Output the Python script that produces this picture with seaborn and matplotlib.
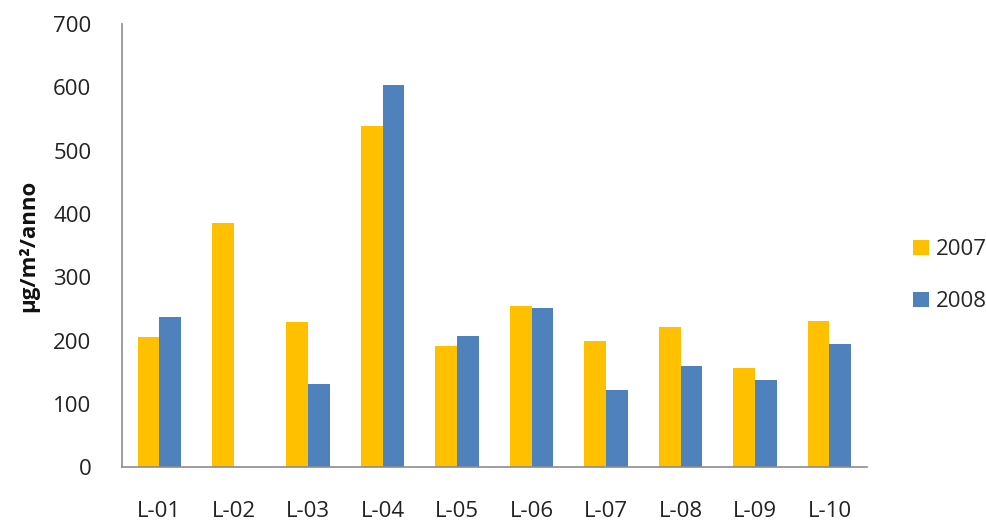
import matplotlib
matplotlib.use("Agg")
import matplotlib.pyplot as plt
import seaborn as sns
import pandas as pd
import numpy as np
from matplotlib.patches import Patch

categories = ["L-01", "L-02", "L-03", "L-04", "L-05", "L-06", "L-07", "L-08", "L-09", "L-10"]
values_2007 = [206, 385, 230, 539, 192, 255, 200, 222, 156, 231]
values_2008 = [237, np.nan, 131, 604, 207, 251, 122, 160, 137, 194]
series = ["2007", "2008"]
colors = ["#FFC000", "#4F81BD"]
y_ticks = [0, 100, 200, 300, 400, 500, 600, 700]

df = pd.DataFrame({
    "site": categories * 2,
    "year": [series[0]] * len(categories) + [series[1]] * len(categories),
    "value": values_2007 + values_2008,
})

sns.set_theme(style="white")
plt.rcParams["font.family"] = ["Open Sans", "DejaVu Sans"]

fig = plt.figure(figsize=(9.87, 5.22), dpi=100)
ax = fig.add_axes([0.1236, 0.105, 0.7545, 0.849])

sns.barplot(data=df, x="site", y="value", hue="year", palette=colors,
            width=0.583, ax=ax, legend=False, saturation=1, edgecolor="none")

ax.set_ylim(0, 700)
ax.set_yticks(y_ticks)
ax.set_xlim(-0.5, len(categories) - 0.5)
ax.tick_params(axis="y", length=0, pad=22, labelsize=16, colors="#222222")
ax.tick_params(axis="x", length=0, pad=24, labelsize=16, colors="#222222")
ax.set_xlabel("")
ax.set_ylabel("µg/m²/anno", fontsize=16, fontweight="bold", labelpad=10, color="#111111")

for s in ["top", "right"]:
    ax.spines[s].set_visible(False)
for s in ["left", "bottom"]:
    ax.spines[s].set_color("#8C8C8C")
    ax.spines[s].set_linewidth(1.2)

handles = [Patch(facecolor=c, edgecolor="none", label=l) for c, l in zip(colors, series)]
fig.legend(handles=handles, loc="center left", bbox_to_anchor=(0.905, 0.472),
           frameon=False, fontsize=16, handlelength=0.7, handleheight=0.7,
           handletextpad=0.3, labelspacing=1.4)

fig.savefig("out.png", dpi=100)
